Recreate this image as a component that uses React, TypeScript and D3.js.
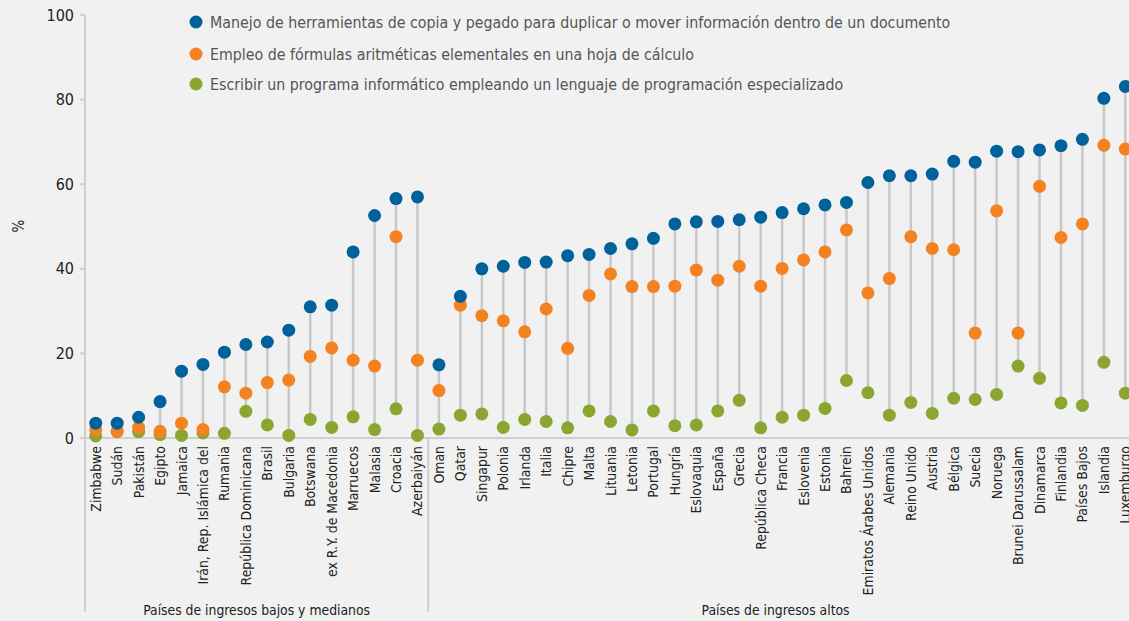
import React from "react";
import * as d3 from "d3";

const lowMidCountries = ["Zimbabwe","Sudán","Pakistán","Egipto","Jamaica","Irán, Rep. Islámica del","Rumania","República Dominicana","Brasil","Bulgaria","Botswana","ex R.Y. de Macedonia","Marruecos","Malasia","Croacia","Azerbaiyán"];
const highCountries = ["Oman","Qatar","Singapur","Polonia","Irlanda","Italia","Chipre","Malta","Lituania","Letonia","Portugal","Hungría","Eslovaquia","España","Grecia","República Checa","Francia","Eslovenia","Estonia","Bahrein","Emiratos Árabes Unidos","Alemania","Reino Unido","Austria","Bélgica","Suecia","Noruega","Brunei Darussalam","Dinamarca","Finlandia","Países Bajos","Islandia","Luxemburgo"];
const countries = [...lowMidCountries, ...highCountries];

const copyPaste = [3.5,3.5,4.9,8.6,15.8,17.4,20.3,22.1,22.7,25.5,31.0,31.4,44.0,52.6,56.6,57.0,
  17.3,33.5,40.0,40.6,41.5,41.6,43.1,43.4,44.8,45.9,47.2,50.6,51.1,51.2,51.6,52.2,53.3,54.2,55.1,55.7,60.4,62.0,62.0,62.4,65.4,65.2,67.8,67.7,68.1,69.1,70.6,80.3,83.1];
const formulas = [1.9,1.6,2.5,1.6,3.5,2.0,12.1,10.6,13.1,13.7,19.3,21.3,18.4,17.0,47.6,18.4,
  11.2,31.4,28.9,27.7,25.1,30.5,21.2,33.7,38.8,35.8,35.8,35.9,39.7,37.3,40.6,35.9,40.1,42.1,44.0,49.2,34.3,37.7,47.6,44.8,44.5,24.8,53.7,24.8,59.5,47.4,50.6,69.2,68.3];
const programming = [0.5,1.5,1.5,0.8,0.6,1.2,1.1,6.3,3.1,0.6,4.4,2.5,5.0,2.0,6.9,0.6,
  2.1,5.4,5.7,2.5,4.4,3.9,2.4,6.4,3.9,1.9,6.4,2.9,3.1,6.4,8.9,2.4,4.9,5.4,7.0,13.6,10.7,5.4,8.4,5.8,9.4,9.1,10.3,17.0,14.1,8.3,7.7,17.9,10.6];

const yTicks = [0, 20, 40, 60, 80, 100];
const seriesNames = [
  "Manejo de herramientas de copia y pegado para duplicar o mover información dentro de un documento",
  "Empleo de fórmulas aritméticas elementales en una hoja de cálculo",
  "Escribir un programa informático empleando un lenguaje de programación especializado",
];
const seriesColors = ["#00629b", "#f58220", "#8ba630"];
const groupLabels = ["Países de ingresos bajos y medianos", "Países de ingresos altos"];

const W = 1129, H = 621;
const FONT = "'Liberation Sans Narrow', 'DejaVu Sans Condensed', 'Roboto Condensed', Roboto, sans-serif";

export default function App() {
  const x = d3.scaleBand<string>().domain(countries).range([85, 85 + countries.length * 21.45]).padding(0);
  const y = d3.scaleLinear().domain([0, 100]).range([438, 15]);
  const cx = (c: string) => (x(c) as number) + x.bandwidth() / 2;
  const series = [copyPaste, formulas, programming];
  const sepX = ((x(lowMidCountries[lowMidCountries.length - 1]) as number) + x.bandwidth());
  const lowMidCenter = (85 + sepX) / 2;
  const highCenter = (sepX + W) / 2 - 3;

  return (
    <svg width={W} height={H} style={{ position: "absolute", left: 0, top: 0, background: "#f1f1f1", fontFamily: FONT }}>
      <rect x={0} y={0} width={W} height={H} fill="#f1f1f1" />
      {/* axes */}
      <line x1={85} x2={85} y1={15} y2={612} stroke="#cfcfcf" strokeWidth={2} />
      <line x1={85} x2={W} y1={y(0)} y2={y(0)} stroke="#cfcfcf" strokeWidth={2} />
      <line x1={sepX} x2={sepX} y1={y(0)} y2={612} stroke="#cfcfcf" strokeWidth={2} />
      {yTicks.map((t) => (
        <g key={t}>
          <line x1={80} x2={85} y1={y(t)} y2={y(t)} stroke="#cfcfcf" strokeWidth={2} />
          <text x={74} y={y(t)} dy="0.35em" textAnchor="end" fontSize={16} fill="#222">{t}</text>
        </g>
      ))}
      <text transform={`translate(24,226) rotate(-90)`} textAnchor="middle" fontSize={15} fill="#222">%</text>
      {/* stems */}
      {countries.map((c, i) => {
        const vals = [copyPaste[i], formulas[i], programming[i]];
        return (
          <line key={c} x1={cx(c)} x2={cx(c)} y1={y(d3.min(vals) as number)} y2={y(d3.max(vals) as number)} stroke="#c8c8c8" strokeWidth={2.5} />
        );
      })}
      {/* dots: draw green, orange, blue order */}
      {[2, 1, 0].map((s) => (
        <g key={s}>
          {countries.map((c, i) => (
            <circle key={c} cx={cx(c)} cy={y(series[s][i])} r={6.5} fill={seriesColors[s]} />
          ))}
        </g>
      ))}
      {/* category labels */}
      {countries.map((c) => (
        <text key={c} transform={`translate(${cx(c) + 5},446) rotate(-90)`} textAnchor="end" fontSize={13.9} fill="#222">{c}</text>
      ))}
      {/* group labels */}
      <text x={lowMidCenter} y={615} textAnchor="middle" fontSize={13.8} fill="#222">{groupLabels[0]}</text>
      <text x={highCenter} y={615} textAnchor="middle" fontSize={13.8} fill="#222">{groupLabels[1]}</text>
      {/* legend */}
      {seriesNames.map((n, i) => {
        const ly = [22, 54, 84][i];
        return (
          <g key={n}>
            <circle cx={196} cy={ly} r={6.5} fill={seriesColors[i]} />
            <text x={210} y={ly} dy="0.35em" fontSize={15.8} fill="#555">{n}</text>
          </g>
        );
      })}
    </svg>
  );
}
